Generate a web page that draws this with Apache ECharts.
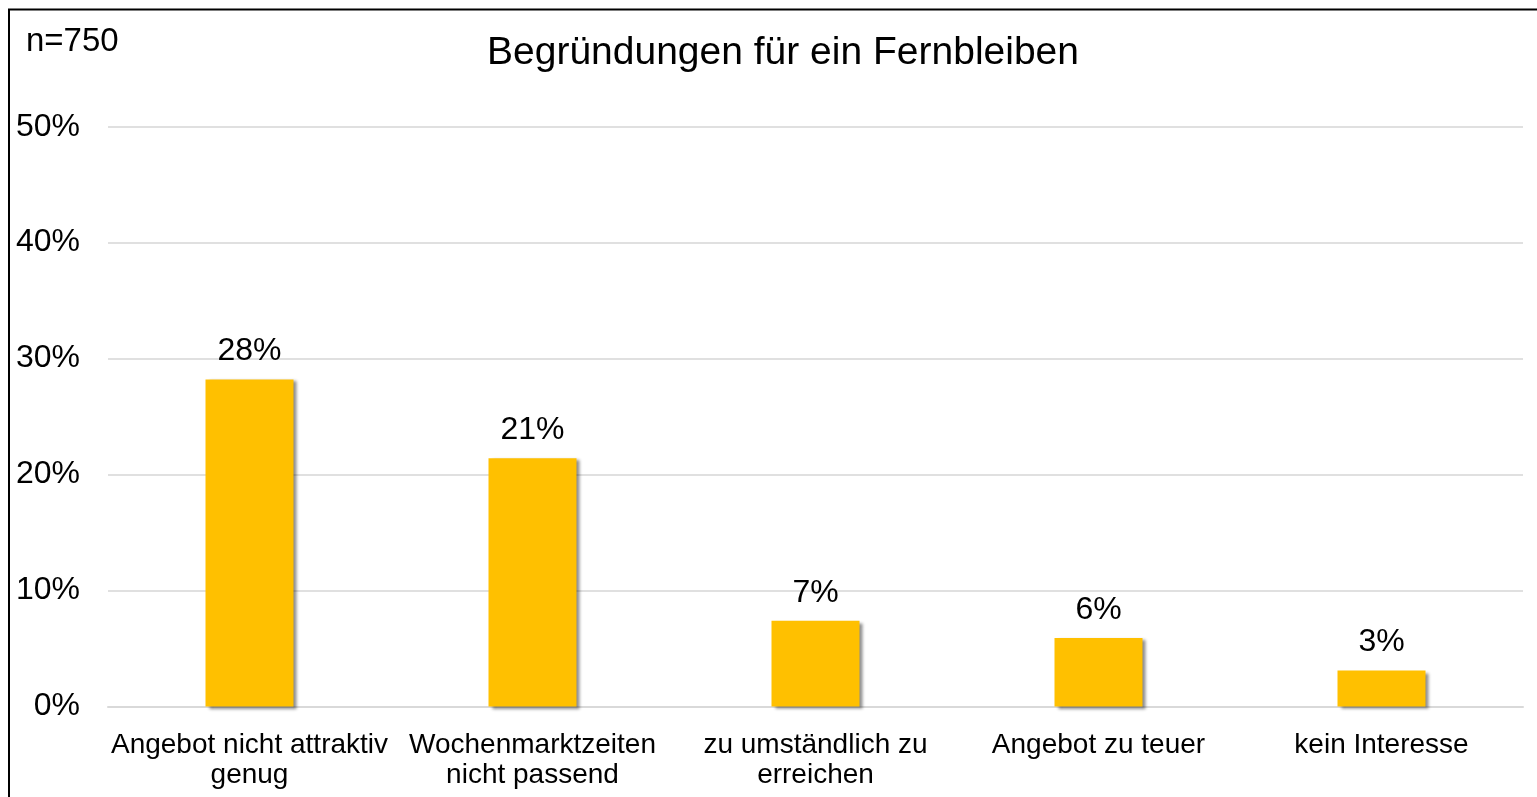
<!DOCTYPE html>
<html>
<head>
<meta charset="utf-8">
<script src="https://cdn.jsdelivr.net/npm/echarts@6/dist/echarts.min.js"></script>
<style>
html,body{margin:0;padding:0;background:#fff;}
#main{width:1537px;height:797px;}
</style>
</head>
<body>
<div id="main"></div>
<script>
//Kategorien und Werte (Anteile in %)
let categories = ['Angebot nicht attraktiv\ngenug', 'Wochenmarktzeiten\nnicht passend', 'zu umständlich zu\nerreichen', 'Angebot zu teuer', 'kein Interesse'];
let values = [28.2, 21.4, 7.4, 5.9, 3.1];
let yTicks = [0, 10, 20, 30, 40, 50];

let fontName = '"Liberation Sans", Arial, sans-serif';

let chart = echarts.init(document.getElementById('main'), null, {renderer: 'canvas'});

let option = {
    backgroundColor: '#fff',
    animation: false,
    graphic: [
        {
            type: 'rect',
            shape: {x: 9, y: 9.5, width: 1600, height: 900},
            style: {fill: 'none', stroke: '#000', lineWidth: 2},
            z: 100
        },
        {
            type: 'text',
            style: {
                text: 'n=750', x: 26, y: 42,
                font: '33px ' + fontName, fill: '#000',
                textAlign: 'left', textVerticalAlign: 'middle'
            }
        },
        {
            type: 'text',
            style: {
                text: 'Begründungen für ein Fernbleiben', x: 783, y: 53,
                font: '39px ' + fontName, fill: '#000',
                textAlign: 'center', textVerticalAlign: 'middle'
            }
        }
    ],
    grid: {left: 108, right: 14, top: 126.7, bottom: 90.5, containLabel: false},
    xAxis: {
        type: 'category',
        data: categories,
        axisTick: {show: false},
        axisLine: {show: true, lineStyle: {color: '#d9d9d9', width: 2}},
        axisLabel: {
            color: '#000', fontSize: 28, fontFamily: fontName,
            lineHeight: 30, margin: 24, interval: 0
        }
    },
    yAxis: {
        type: 'value',
        min: yTicks[0],
        max: yTicks[yTicks.length - 1],
        interval: 10,
        axisLine: {show: false},
        axisTick: {show: false},
        splitLine: {lineStyle: {color: '#e0e0e0', width: 2}},
        axisLabel: {
            color: '#000', fontSize: 32, fontFamily: fontName, margin: 28,
            formatter: function (v) { return v + '%'; }
        }
    },
    series: [{
        type: 'bar',
        data: values,
        barWidth: 88,
        itemStyle: {
            color: '#FFC000',
            shadowColor: 'rgba(0,0,0,0.45)',
            shadowBlur: 3,
            shadowOffsetX: 3,
            shadowOffsetY: 2
        },
        label: {
            show: true,
            position: 'top',
            distance: 12,
            color: '#000',
            fontSize: 32,
            fontFamily: fontName,
            formatter: function (p) { return Math.round(p.value) + '%'; }
        }
    }]
};

chart.setOption(option);
</script>
</body>
</html>
